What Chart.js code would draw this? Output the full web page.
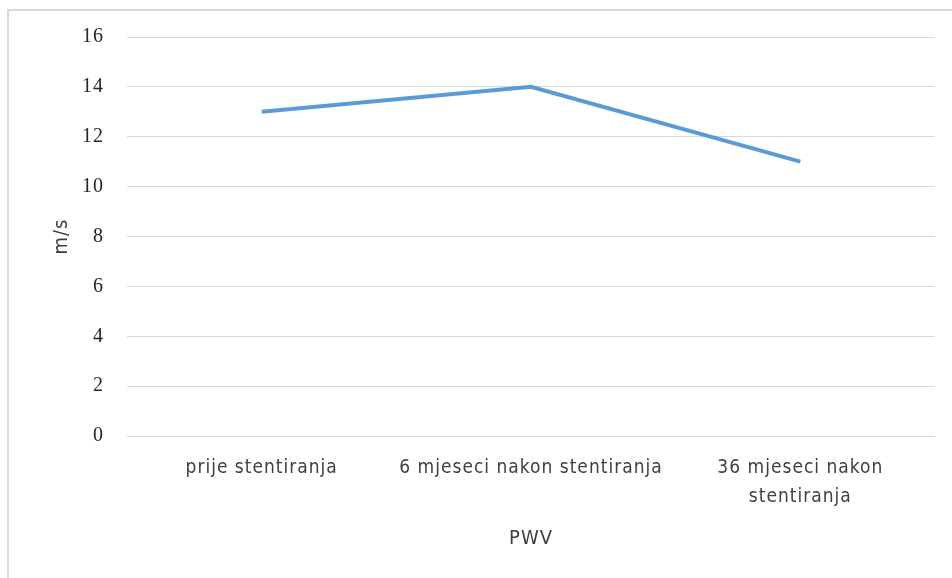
<!DOCTYPE html>
<html>
<head>
<meta charset="utf-8">
<script src="https://cdn.jsdelivr.net/npm/chart.js@4"></script>
<style>
html,body{margin:0;padding:0;background:#fff;}
#wrap{position:relative;width:952px;height:578px;}
#frame{position:absolute;left:7px;top:9px;width:960px;height:580px;border-left:2px solid #d9d9d9;border-top:2px solid #d9d9d9;box-sizing:border-box;}
canvas{position:absolute;left:0;top:0;}
</style>
</head>
<body>
<div id="wrap"><div id="frame"></div><canvas id="c" width="952" height="578"></canvas></div>
<script>
const categories = ['prije stentiranja', '6 mjeseci nakon stentiranja', ['36 mjeseci nakon', 'stentiranja']];
const pwvValues = [13, 14, 11];
const yTicks = [0, 2, 4, 6, 8, 10, 12, 14, 16];

const narrow = '"Liberation Sans Narrow", "DejaVu Sans Condensed", "Liberation Sans", sans-serif';

const spacing = {
  id: 'spacing',
  beforeUpdate(chart) { chart.ctx.letterSpacing = '1px'; },
  beforeLayout(chart) { chart.ctx.letterSpacing = '1px'; },
  beforeDraw(chart) { chart.ctx.letterSpacing = '1px'; }
};

new Chart(document.getElementById('c'), {
  type: 'line',
  data: {
    labels: categories,
    datasets: [{
      label: 'PWV',
      data: pwvValues,
      borderColor: '#5b9bd5',
      borderWidth: 4,
      pointRadius: 0,
      tension: 0,
      fill: false
    }]
  },
  plugins: [spacing],
  options: {
    responsive: false,
    animation: false,
    layout: { padding: { top: 37, left: 50, right: 17, bottom: 27 } },
    plugins: { legend: { display: false }, tooltip: { enabled: false } },
    scales: {
      x: {
        offset: true,
        grid: { display: false, drawTicks: false },
        border: { display: false },
        ticks: { color: '#404040', font: { family: narrow, size: 19, lineHeight: 1.5 }, padding: 18, maxRotation: 0 },
        title: { display: true, text: 'PWV', color: '#404040', font: { family: narrow, size: 20 }, padding: { top: -2, bottom: 0 } }
      },
      y: {
        min: 0, max: 16,
        afterBuildTicks: s => { s.ticks = yTicks.map(v => ({ value: v })); },
        afterFit: s => { s.width = 77; },
        grid: { color: '#d9d9d9', lineWidth: 1, drawTicks: false },
        border: { display: false },
        ticks: { color: '#262626', font: { family: '"Liberation Serif", "DejaVu Serif", serif', size: 20 }, padding: 23 },
        title: { display: true, text: 'm/s', color: '#404040', font: { family: narrow, size: 20 }, padding: 0 }
      }
    }
  }
});
</script>
</body>
</html>
